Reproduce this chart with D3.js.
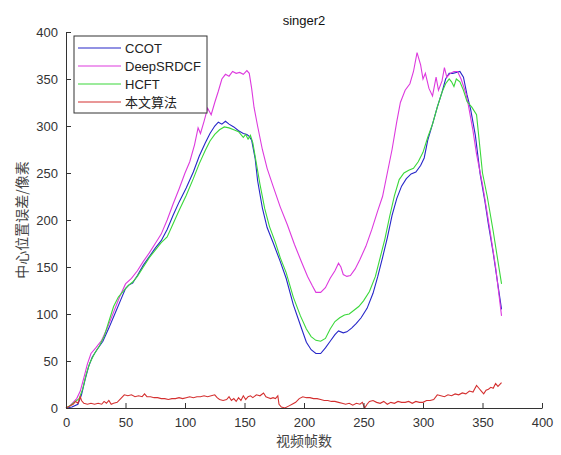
<!DOCTYPE html>
<html>
<head>
<meta charset="utf-8">
<script src="https://cdn.jsdelivr.net/npm/d3@7"></script>
<style>
  body { margin: 0; background: #fff; }
  svg { display: block; }
  .tick text { font-family: "Liberation Sans", Arial, sans-serif; font-size: 13px; fill: #333; }
</style>
</head>
<body>
<div id="chart"></div>
<script>
// singer2 - center location error per frame

var xTicks = [0, 50, 100, 150, 200, 250, 300, 350, 400];
var yTicks = [0, 50, 100, 150, 200, 250, 300, 350, 400];
var seriesNames = ["CCOT", "DeepSRDCF", "HCFT", "本文算法"];

// [frame, error]
var ccot = [[0,0],[5,1],[10,4],[13,14],[16,30],[19,44],[22,54],[26,62],[31,71],[36,85],[41,100],[46,115],[50,127],[53,131],[56,133],[60,141],[65,152],[70,161],[75,170],[80,178],[85,190],[90,205],[95,219],[101,234],[107,251],[112,268],[117,282],[121,292],[125,300],[128,304],[131,302],[134,305],[137,302],[141,299],[145,295],[149,292],[152,291],[154,289],[156,285],[159,265],[161,242],[165,213],[169,192],[174,176],[180,156],[185,138],[191,110],[197,88],[202,70],[206,62],[210,58],[214,58],[218,64],[222,71],[226,78],[229,82],[233,80],[236,81],[240,85],[244,90],[248,96],[253,106],[258,122],[262,140],[266,160],[270,181],[274,205],[278,223],[282,236],[286,244],[290,249],[294,251],[298,258],[301,266],[304,285],[308,302],[312,320],[316,336],[319,350],[322,356],[325,356],[328,357],[331,358],[334,352],[337,333],[340,318],[344,290],[348,249],[352,220],[355,195],[359,165],[366,105]];

var deepsrdcf = [[0,0],[3,2],[6,6],[9,10],[12,18],[15,32],[18,47],[21,58],[25,64],[30,72],[35,86],[40,102],[45,118],[50,132],[55,138],[60,146],[65,156],[70,165],[75,175],[80,185],[85,200],[90,217],[95,233],[100,250],[104,262],[108,280],[111,298],[113,292],[116,305],[119,319],[122,312],[125,325],[128,337],[131,350],[134,355],[137,353],[140,358],[143,356],[146,357],[149,355],[152,359],[154,356],[156,340],[158,320],[161,300],[165,275],[169,255],[174,236],[180,214],[186,195],[192,174],[198,155],[203,140],[207,130],[210,123],[214,123],[218,128],[222,138],[226,146],[229,154],[231,150],[233,142],[236,140],[239,141],[243,148],[247,158],[252,172],[257,190],[262,210],[266,225],[270,250],[274,275],[278,305],[281,325],[285,338],[289,345],[292,358],[295,378],[298,365],[300,350],[302,356],[305,340],[308,332],[311,352],[313,338],[316,348],[318,362],[320,352],[323,356],[326,358],[329,358],[332,350],[336,335],[338,323],[342,295],[345,270],[350,238],[356,191],[361,150],[366,98]];

var hcft = [[0,0],[4,3],[8,7],[11,10],[14,20],[17,36],[20,48],[24,58],[28,66],[32,76],[36,92],[40,108],[44,118],[48,124],[52,130],[56,134],[60,140],[65,150],[70,160],[75,168],[80,176],[85,182],[90,196],[95,210],[101,226],[107,244],[112,260],[117,274],[121,284],[125,291],[129,296],[133,299],[137,298],[141,296],[145,294],[149,288],[151,291],[153,286],[155,290],[157,282],[160,260],[163,238],[167,212],[171,193],[176,176],[180,160],[185,144],[191,118],[197,98],[202,84],[206,76],[210,72],[214,71],[218,74],[222,84],[226,92],[230,96],[234,99],[238,100],[242,104],[246,108],[250,114],[255,124],[260,140],[264,160],[268,180],[272,204],[276,226],[280,243],[284,250],[288,253],[292,255],[296,262],[300,272],[304,288],[308,302],[312,320],[316,336],[319,345],[322,350],[324,347],[326,342],[328,350],[331,347],[334,338],[337,326],[341,320],[345,312],[350,250],[354,225],[359,188],[366,132]];

var ours = [[0,0],[3,2],[6,4],[8,7],[10,5],[12,12],[13,8],[15,5],[18,4],[21,5],[24,4],[27,5],[30,4],[32,7],[34,5],[36,8],[38,4],[40,5],[43,6],[46,10],[49,14],[52,13],[55,14],[58,12],[61,13],[64,12],[66,15],[68,12],[71,12],[74,11],[77,11],[80,10],[83,10],[86,9],[89,10],[92,10],[95,11],[98,10],[101,11],[104,12],[107,11],[110,12],[113,12],[116,13],[119,12],[122,13],[125,14],[127,11],[129,9],[132,8],[135,9],[137,12],[139,8],[141,10],[143,7],[145,11],[147,8],[149,13],[151,9],[153,12],[155,13],[157,11],[160,14],[163,13],[166,16],[168,12],[170,11],[172,10],[174,11],[176,10],[178,13],[179,4],[181,1],[184,0],[187,2],[190,4],[193,6],[196,10],[199,12],[202,11],[205,11],[208,10],[211,10],[214,9],[217,8],[220,8],[223,7],[226,7],[229,6],[232,5],[235,4],[238,5],[241,3],[244,5],[247,4],[249,6],[251,0],[253,4],[255,7],[258,8],[261,6],[264,5],[267,7],[270,4],[273,6],[276,5],[279,7],[282,6],[285,6],[288,7],[291,5],[294,7],[297,6],[300,6],[303,8],[306,8],[309,9],[312,14],[315,13],[318,12],[321,14],[324,13],[327,15],[330,14],[333,16],[336,15],[339,18],[342,17],[345,24],[347,21],[349,18],[351,15],[353,19],[355,20],[357,22],[359,21],[361,26],[363,23],[366,27]];

var series = [
	{name: seriesNames[0], data: ccot, color: "#2626c8"},
	{name: seriesNames[1], data: deepsrdcf, color: "#dd3ade"},
	{name: seriesNames[2], data: hcft, color: "#3ad83a"},
	{name: seriesNames[3], data: ours, color: "#d43030"}
];

var width = 561, height = 455;
var margin = {left: 66, right: 19, top: 32, bottom: 47};

var svg = d3.select("#chart").append("svg")
	.attr("width", width)
	.attr("height", height);

var x = d3.scaleLinear().domain([0, 400]).range([margin.left, width - margin.right]);
var y = d3.scaleLinear().domain([0, 400]).range([height - margin.bottom, margin.top]);

// lines
var line = d3.line()
	.x(function(d){ return x(d[0]); })
	.y(function(d){ return y(d[1]); });

svg.selectAll("path.series")
	.data(series)
	.enter()
	.append("path")
	.attr("class", "series")
	.attr("d", function(d){ return line(d.data); })
	.attr("fill", "none")
	.attr("stroke", function(d){ return d.color; })
	.attr("stroke-width", 1.1);

// axes, ticks pointing inward like matlab
var xAxis = svg.append("g")
	.attr("transform", "translate(0," + y(0) + ")")
	.call(d3.axisBottom(x).tickValues(xTicks).tickSizeInner(-5).tickSizeOuter(0).tickPadding(10));
var yAxis = svg.append("g")
	.attr("transform", "translate(" + x(0) + ",0)")
	.call(d3.axisLeft(y).tickValues(yTicks).tickSizeInner(-5).tickSizeOuter(0).tickPadding(8));

svg.selectAll(".domain, .tick line").attr("stroke", "#333");

// title and labels
svg.append("text")
	.attr("x", x(200))
	.attr("y", 25)
	.attr("text-anchor", "middle")
	.style("font-family", "Liberation Sans, Arial, sans-serif")
	.style("font-size", "13px")
	.style("fill", "#111")
	.text("singer2");

svg.append("text")
	.attr("x", x(200))
	.attr("y", 446)
	.attr("text-anchor", "middle")
	.style("font-family", "Noto Sans CJK SC, sans-serif")
	.style("font-size", "14px")
	.style("fill", "#444")
	.text("视频帧数");

svg.append("text")
	.attr("transform", "translate(27," + y(200) + ") rotate(-90)")
	.attr("text-anchor", "middle")
	.style("font-family", "Noto Sans CJK SC, sans-serif")
	.style("font-size", "14px")
	.style("fill", "#444")
	.text("中心位置误差/像素");

// legend
var lg = svg.append("g").attr("transform", "translate(74,36)");
lg.append("rect")
	.attr("width", 133)
	.attr("height", 77)
	.attr("fill", "#fff")
	.attr("stroke", "#333")
	.attr("stroke-width", 1);

var item = lg.selectAll("g.item")
	.data(series)
	.enter()
	.append("g")
	.attr("class", "item")
	.attr("transform", function(d, i){ return "translate(0," + (12 + i * 18) + ")"; });

item.append("line")
	.attr("x1", 4).attr("x2", 47)
	.attr("stroke", function(d){ return d.color; })
	.attr("stroke-width", 1.1);

item.append("text")
	.attr("x", 51)
	.attr("dy", "0.36em")
	.style("font-family", function(d, i){ return i == 3 ? "Noto Sans CJK SC, sans-serif" : "Liberation Sans, Arial, sans-serif"; })
	.style("font-size", "13px")
	.style("fill", "#222")
	.text(function(d){ return d.name; });
</script>
</body>
</html>
